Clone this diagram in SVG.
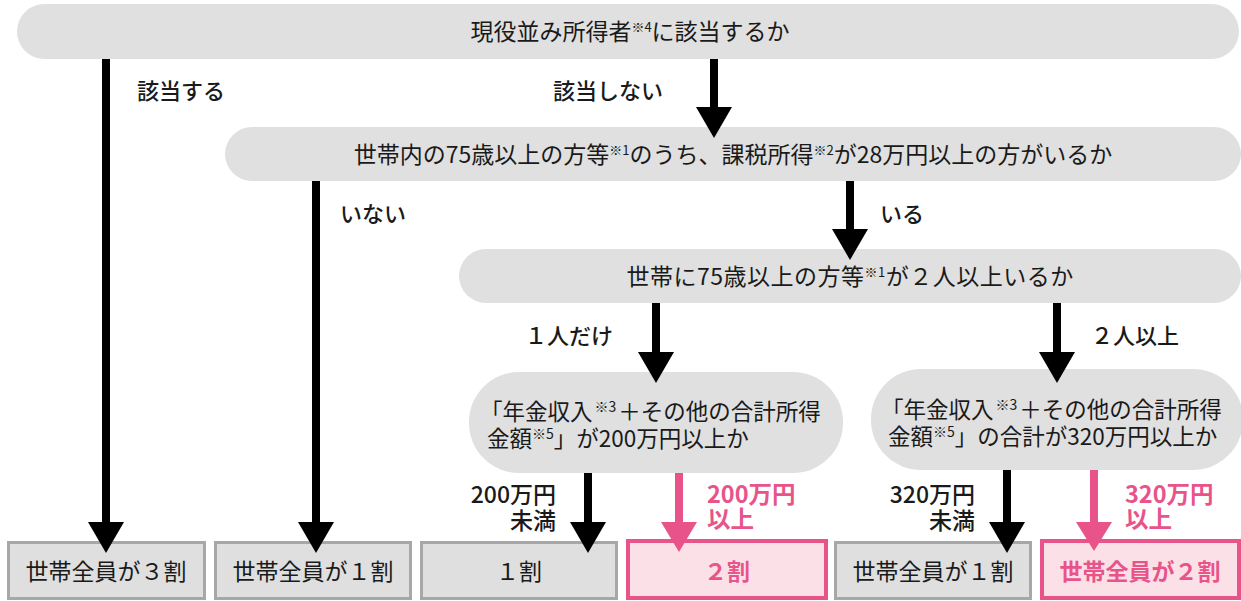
<svg xmlns="http://www.w3.org/2000/svg" width="1241" height="601" viewBox="0 0 1241 601">
<style>
text{font-family:"Noto Sans CJK JP","Noto Sans",sans-serif;fill:#1a1a1a}
.q{font-size:23px}
.q2{font-size:22.5px}
.sup{font-size:13px}
.sup2{font-size:14px}
.lbl{font-size:22px;font-weight:500}
.lbl2{font-size:23px;font-weight:500}
.lp{font-size:23.5px;font-weight:700;fill:#e8548a}
.res{font-size:23px}
.resp{font-size:23px;font-weight:700;fill:#e8548a}
.pill{fill:#dfe0df}
.box{fill:#dedfde;stroke:#a6a7a6;stroke-width:3}
.pbox{fill:#fbe1e7;stroke:#e8548a;stroke-width:4}
.ln{stroke:#000;stroke-width:8;fill:none}
.lnp{stroke:#e8548a;stroke-width:8;fill:none}
.hd{fill:#000}
.hdp{fill:#e8548a}
</style>
<rect width="1241" height="601" fill="#fff"/>

<g id="q1">
<rect class="pill" x="17" y="4" width="1222" height="55" rx="27.5"/>
<text class="q" x="630" y="40" text-anchor="middle">現役並み所得者<tspan class="sup" dy="-8">※4</tspan><tspan dy="8">に該当するか</tspan></text>
</g>

<g id="q2">
<rect class="pill" x="225" y="127" width="1016" height="54" rx="27"/>
<text class="q" x="733" y="163" text-anchor="middle">世帯内の75歳以上の方等<tspan class="sup" dy="-8">※1</tspan><tspan dy="8">のうち、課税所得</tspan><tspan class="sup" dy="-8">※2</tspan><tspan dy="8">が28万円以上の方がいるか</tspan></text>
</g>

<g id="q3">
<rect class="pill" x="459" y="249" width="782" height="54" rx="27"/>
<text class="q" x="850" y="285" text-anchor="middle" letter-spacing="0.5">世帯に75歳以上の方等<tspan class="sup" dy="-8">※1</tspan><tspan dy="8">が２人以上いるか</tspan></text>
</g>

<g id="q4a">
<rect class="pill" x="469" y="372" width="374" height="101" rx="50"/>
<text class="q2" x="480" y="420">「年金収入<tspan class="sup2" dx="2" dy="-8">※3</tspan><tspan dx="2" dy="8">＋その他の合計所得</tspan></text>
<text class="q2" x="487" y="447">金額<tspan class="sup2" dy="-8">※5</tspan><tspan dy="8">」が200万円以上か</tspan></text>
</g>

<g id="q4b">
<rect class="pill" x="871" y="369" width="372" height="101" rx="50"/>
<text class="q2" x="881" y="418">「年金収入<tspan class="sup2" dx="2" dy="-8">※3</tspan><tspan dx="2" dy="8">＋その他の合計所得</tspan></text>
<text class="q2" x="888" y="445">金額<tspan class="sup2" dy="-8">※5</tspan><tspan dy="8">」の合計が320万円以上か</tspan></text>
</g>

<g id="r1">
<rect class="box" x="8.5" y="542.5" width="196" height="56"/>
<text class="res" x="106" y="580" text-anchor="middle">世帯全員が３割</text>
</g>
<g id="r2">
<rect class="box" x="215.5" y="542.5" width="195" height="56"/>
<text class="res" x="313" y="580" text-anchor="middle">世帯全員が１割</text>
</g>
<g id="r3">
<rect class="box" x="421.5" y="542.5" width="195" height="56"/>
<text class="res" x="519" y="580" text-anchor="middle">１割</text>
</g>
<g id="r4">
<rect class="pbox" x="628" y="541" width="198" height="57"/>
<text class="resp" x="727" y="580" text-anchor="middle">２割</text>
</g>
<g id="r5">
<rect class="box" x="835.5" y="542.5" width="195" height="56"/>
<text class="res" x="933" y="580" text-anchor="middle">世帯全員が１割</text>
</g>
<g id="r6">
<rect class="pbox" x="1042" y="541" width="197" height="57"/>
<text class="resp" x="1140" y="580" text-anchor="middle">世帯全員が２割</text>
</g>

<g id="connectors">
<line class="ln" x1="106" y1="59" x2="106" y2="525"/>
<polygon class="hd" points="88,522 124,522 106,553"/>
<text class="lbl" x="137" y="99">該当する</text>

<line class="ln" x1="714" y1="59" x2="714" y2="110"/>
<polygon class="hd" points="696,107 732,107 714,138"/>
<text class="lbl" x="553" y="99">該当しない</text>

<line class="ln" x1="316" y1="181" x2="316" y2="525"/>
<polygon class="hd" points="298,522 334,522 316,553"/>
<text class="lbl" x="340" y="222">いない</text>

<line class="ln" x1="850" y1="181" x2="850" y2="232"/>
<polygon class="hd" points="832,229 868,229 850,260"/>
<text class="lbl" x="880" y="222">いる</text>

<line class="ln" x1="656" y1="303" x2="656" y2="355"/>
<polygon class="hd" points="638,352 674,352 656,383"/>
<text class="lbl" x="525" y="344">１人だけ</text>

<line class="ln" x1="1057" y1="303" x2="1057" y2="355"/>
<polygon class="hd" points="1039,352 1075,352 1057,383"/>
<text class="lbl" x="1091" y="344">２人以上</text>

<line class="ln" x1="588" y1="473" x2="588" y2="525"/>
<polygon class="hd" points="570,522 606,522 588,553"/>
<text class="lbl2" x="556" y="503" text-anchor="end">200万円</text>
<text class="lbl2" x="556" y="529" text-anchor="end">未満</text>

<line class="lnp" x1="679" y1="473" x2="679" y2="525"/>
<polygon class="hdp" points="661,522 697,522 679,552"/>
<text class="lp" x="707" y="503">200万円</text>
<text class="lp" x="707" y="528">以上</text>

<line class="ln" x1="1007" y1="470" x2="1007" y2="525"/>
<polygon class="hd" points="989,522 1025,522 1007,553"/>
<text class="lbl2" x="975" y="503" text-anchor="end">320万円</text>
<text class="lbl2" x="975" y="529" text-anchor="end">未満</text>

<line class="lnp" x1="1094" y1="470" x2="1094" y2="525"/>
<polygon class="hdp" points="1076,522 1112,522 1094,551"/>
<text class="lp" x="1125" y="503">320万円</text>
<text class="lp" x="1125" y="528">以上</text>
</g>
</svg>
